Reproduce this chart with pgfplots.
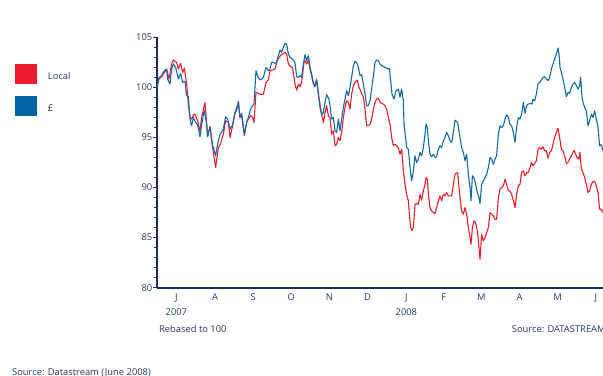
\documentclass[border=0pt]{standalone}
\usepackage{fontspec}
\setmainfont{Open Sans}
\usepackage{pgfplots}
\pgfplotsset{compat=1.18}
\definecolor{navy}{RGB}{30,45,90}
\definecolor{txt}{RGB}{40,55,95}
\definecolor{lred}{RGB}{232,30,45}
\definecolor{lblue}{RGB}{20,105,170}
\definecolor{sqred}{RGB}{237,28,46}
\definecolor{sqblue}{RGB}{0,102,166}
\newcommand{\chf}{\fontsize{9.4}{11}\selectfont}
\begin{document}
\begin{tikzpicture}
\begin{axis}[
  at={(0,0)}, anchor=south west,
  scale only axis, width=446.25bp, height=250.4bp,
  xmin=0, xmax=357, ymin=80, ymax=105,
  axis x line*=bottom, axis y line*=left,
  x axis line style={-, draw=navy, line width=1.6bp},
  y axis line style={-, draw=navy, line width=1.2bp},
  tick align=outside,
  major tick length=3.5bp, minor tick length=2.5bp,
  tick style={draw=navy, line width=0.8bp},
  ytick={80,85,...,105}, minor y tick num=4,
  xtick={15.5,46.5,77,107.5,138,168.5,199.5,229.5,259.5,290,320.5,351},
  xticklabels={J\\[4bp]2007,A,S,O,N,D,J\\[4bp]2008,F,M,A,M,J},
  xtick style={draw=none},
  minor xtick={0,31,62,92,123,153,215,244,275,305,336},
  extra x ticks={184}, extra x tick labels={},
  extra x tick style={major tick length=6bp, tick align=center, tick style={draw=navy, line width=0.9bp}},
  xticklabel style={align=center, font=\chf, text=txt, anchor=north, inner sep=0pt, yshift=-2bp},
  yticklabel style={font=\chf, text=txt, anchor=east, inner sep=0pt, xshift=-1bp},
  /pgf/number format/assume math mode=true,
  legend style={at={(axis description cs:-0.3182,0.8934)}, anchor=north west,
    draw=none, fill=none, inner sep=0pt, row sep=12bp, column sep=10.7bp,
    cells={anchor=base west}, nodes={inner sep=0pt, text=txt, font=\chf}},
  line join=round,
]
\addplot[lred, line width=1.1bp, legend image code/.code={\fill[sqred] (0bp,-4.5bp) rectangle (21bp,14.5bp);}] coordinates {
(0,100) (1.6,100.83) (3.7,101.07) (5.9,101.5) (7.7,101.83) (9.6,100.83) (11.7,102.33) (13.1,102.73) (15.7,102.5) (17.1,101.83) (18.9,102.4) (20.5,101.5) (21.9,101.93) (23.7,100.33) (25.1,98.33) (26.4,97.0) (27.7,96.83) (29.1,97.27) (30.4,97.33) (32.5,96.67) (34.4,95.6) (35.7,97.0) (38.4,98.5) (40.5,95.17) (42.4,96.07) (44.3,94.17) (46.9,92.0) (49.1,94.0) (50.7,94.33) (53.1,95.33) (54.9,96.67) (57.1,96.5)
(58.4,95.0) (60.5,96.17) (62.4,97.4) (65.1,98.5) (66.4,97.0) (67.7,97.17) (69.9,95.17) (71.7,96.5) (73.1,96.83) (74.9,97.17) (76.5,97.0) (77.6,96.5) (79.2,99.5) (81.1,99.4) (82.9,99.27) (85.1,99.33) (87.2,100.5) (89.1,100.73) (90.4,101.67) (92.5,101.73) (94.4,101.83) (95.7,102.5) (97.9,103.07) (99.7,103.27) (102.4,103.5) (103.7,103.33) (105.1,102.33) (106.9,102.07) (108.5,101.93) (110.4,100.33) (111.7,99.73) (113.1,100.33) (114.4,100.07) (115.7,100.5) (117.6,102.5)
(118.4,102.67) (119.7,102.33) (121.1,102.73) (122.4,101.83) (123.7,101.17) (125.1,100.33) (126.4,100.07) (127.7,100.83) (129.1,99.17) (130.4,98.33) (131.7,97.33) (133.1,96.5) (134.4,97.5) (135.7,98.17) (137.1,97.17) (138.4,97.0) (139.7,95.33) (141.1,95.67) (142.4,94.17) (143.7,94.33) (145.1,95.0) (146.4,94.67) (147.7,95.5) (149.1,97.0) (150.4,98.0) (151.7,98.67) (153.1,98.5) (154.4,97.83) (155.7,99.33) (157.1,100.17) (158.4,100.5) (160.3,100.73) (161.6,100.0) (162.9,99.67) (165.1,99.0) (166.4,97.83) (167.7,96.17) (170.4,96.27) (171.7,96.83) (173.1,97.83) (174.4,98.5) (175.7,98.83) (177.1,98.93)
(178.4,98.5) (181.1,98.33) (182.4,98.17) (183.7,97.83) (185.1,97.0) (186.4,96.33) (187.7,95.0) (189.1,94.17) (190.4,94.33) (191.7,94.17) (193.1,94.0) (194.4,93.33) (195.7,93.83) (197.1,91.67) (198.4,90.33) (199.7,89.33) (201.1,88.67) (201.9,87.33) (202.9,86.0) (204.0,85.73) (205.1,86.0) (206.4,88.33) (207.7,88.4) (209.1,88.33) (210.4,89.33) (211.7,88.73) (213.1,89.67) (214.4,90.33) (215.2,91.0) (216.3,90.83) (217.1,89.33) (218.4,88.0) (219.7,87.67) (221.1,87.5) (222.4,87.4) (223.7,88.0) (225.1,88.67) (226.4,89.17) (227.7,88.67) (229.1,89.33) (230.4,89.17) (231.7,89.5) (233.1,89.17) (234.4,89.17) (235.7,89.17) (237.1,90.33)
(238.4,91.33) (240.5,91.5) (242.4,89.0) (243.7,87.67) (245.1,87.33) (246.4,88.0) (247.7,87.33) (249.1,86.0) (250.4,85.0) (251.2,84.33) (252.3,86.0) (253.6,86.67) (254.9,86.5) (256.3,85.67) (257.6,84.0) (258.4,82.83) (259.7,85.33) (261.1,84.67) (262.4,85.0) (263.7,85.5) (265.1,86.0) (266.4,87.5) (267.7,87.33) (269.1,87.17) (270.4,86.83) (271.7,86.83) (273.1,89.0) (274.4,89.83) (275.7,90.0) (277.1,90.17) (278.4,90.83) (279.7,90.33) (281.1,89.67) (282.4,89.67) (283.7,89.33) (285.1,88.67) (286.4,88.0) (287.7,89.33) (289.1,90.17) (290.4,90.33) (291.7,91.5) (293.1,91.67) (294.4,91.17) (295.7,91.5)
(296.8,91.5) (298.1,91.83) (299.5,92.5) (300.8,92.17) (302.1,92.4) (303.5,92.67) (304.8,93.83) (306.1,94.0) (307.5,93.83) (308.8,94.07) (310.1,93.67) (311.5,93.67) (312.8,92.93) (314.1,93.5) (315.5,93.67) (316.8,94.33) (318.1,95.0) (319.5,95.5) (320.8,95.93) (322.1,95.0) (323.5,93.83) (324.8,93.67) (326.1,93.17) (327.5,92.4) (328.8,92.5) (330.1,92.83) (331.5,93.17) (332.8,93.5) (333.6,93.73) (334.7,93.4) (336.0,93.0) (337.3,92.83) (338.4,93.5) (339.5,91.83) (340.8,91.5) (342.1,91.0) (343.5,90.33) (344.8,89.5) (346.1,89.67) (347.5,90.33) (348.8,90.6) (350.1,90.6) (351.5,90.17) (352.8,89.5) (354.1,87.83) (355.5,87.83) (356.8,87.5) (358,87.4)
};
\addlegendentry{Local}
\addplot[lblue, line width=1.1bp, legend image code/.code={\fill[sqblue] (0bp,-4.5bp) rectangle (21bp,14.5bp);}] coordinates {
(0,100) (1.6,101.0) (3.7,101.17) (5.9,101.67) (7.7,101.83) (8.5,100.83) (10.4,100.33) (11.7,101.83) (13.1,102.33) (14.9,102.0) (17.1,100.83) (18.9,101.4) (20.5,100.5) (22.4,100.6) (23.7,99.17) (25.1,99.07) (26.4,96.83) (27.7,96.17) (29.1,97.0) (30.9,96.5) (32.5,96.27) (34.4,95.07) (35.7,96.33) (37.9,97.73) (39.7,96.33) (40.5,95.07) (42.4,96.07) (44.3,94.33) (46.9,93.17) (48.5,94.33) (50.4,95.27) (53.1,95.83) (54.9,97.07) (56.5,96.83)
(58.4,95.83) (60.5,96.27) (62.4,97.5) (63.7,97.67) (65.1,98.6) (66.4,97.0) (67.7,97.4) (69.9,95.33) (71.7,96.5) (73.1,97.0) (74.9,97.83) (76.5,98.17) (77.6,98.33) (79.2,101.67) (81.1,100.93) (82.9,100.73) (85.1,101.0) (87.2,102.0) (89.1,101.67) (90.4,101.83) (91.7,102.5) (93.6,102.5) (95.2,102.33) (97.1,103.17) (98.4,103.73) (99.7,103.5) (101.1,104.0) (102.4,104.4) (103.7,104.33) (105.1,103.33) (106.4,103.0) (108.5,102.83) (110.4,102.5) (111.7,101.07) (113.1,101.0) (114.4,101.17) (115.7,101.0) (117.1,102.33)
(118.4,103.27) (119.7,102.67) (121.1,103.17) (122.4,102.0) (123.7,101.33) (125.1,100.5) (126.4,100.07) (127.7,100.73) (129.1,99.5) (130.4,98.0) (131.7,97.27) (133.1,97.5) (134.4,98.5) (135.7,99.27) (137.6,98.83) (138.4,98.17) (139.7,96.83) (141.1,97.0) (142.4,95.67) (143.7,95.5) (145.1,96.83) (146.4,95.67) (147.7,96.83) (149.1,98.0) (150.4,98.83) (151.7,99.67) (153.1,99.17) (154.4,100.0) (155.7,101.0) (157.1,102.17) (158.4,102.6) (159.7,102.5) (161.1,102.0) (162.4,101.17) (163.7,101.27) (165.1,100.33) (166.4,99.33) (167.7,98.17) (169.1,98.17) (170.4,98.67) (171.7,99.83) (173.1,101.17) (174.4,102.5) (175.7,102.73) (177.1,102.67)
(178.4,102.33) (179.7,102.17) (182.4,102.0) (185.1,101.83) (185.9,101.93) (186.9,100.67) (188.0,99.33) (189.6,98.83) (191.2,99.67) (193.1,99.83) (194.4,99.0) (195.7,99.83) (197.1,98.67) (197.6,96.33) (199.2,94.67) (199.7,94.0) (201.1,93.83) (202.4,92.0) (203.7,90.67) (205.1,91.67) (206.4,93.17) (207.7,92.5) (209.1,92.83) (210.4,93.5) (211.7,93.17) (213.1,94.0) (214.4,95.33) (215.2,96.33) (216.3,96.0) (217.1,94.67) (218.4,93.33) (219.7,93.07) (221.1,93.33) (222.4,93.0) (223.7,93.07) (225.1,93.83) (226.4,94.17) (227.7,94.0) (229.1,94.67) (230.4,95.0) (231.7,95.5) (233.1,95.17) (234.4,94.67) (235.7,94.5) (237.1,95.5)
(238.4,96.73) (240.5,96.5) (242.4,95.0) (243.7,94.0) (245.1,93.5) (246.4,92.67) (247.7,93.33) (249.1,91.33) (250.4,90.0) (251.2,88.67) (252.3,91.17) (253.6,91.0) (254.9,90.33) (256.3,89.5) (257.6,89.0) (258.4,88.4) (259.7,90.33) (261.1,90.67) (262.4,91.0) (263.7,91.33) (265.1,92.0) (266.4,93.0) (267.7,92.83) (269.1,92.33) (270.4,92.83) (271.7,93.17) (273.1,95.33) (274.4,96.17) (275.7,96.0) (277.1,96.17) (278.4,96.83) (279.7,97.27) (281.1,97.0) (282.4,96.33) (283.7,96.17) (285.1,95.5) (286.4,94.5) (287.7,96.0) (289.1,97.0) (290.4,96.83) (291.7,97.33) (293.1,98.5) (294.4,97.4) (295.7,98.17)
(296.8,98.33) (298.9,98.4) (300.0,98.33) (300.8,98.83) (302.1,98.67) (303.5,99.33) (304.8,100.33) (306.1,100.5) (307.5,100.73) (308.8,101.0) (310.1,101.07) (311.5,100.83) (312.8,100.67) (314.1,101.0) (315.5,101.83) (316.8,102.33) (318.1,102.83) (319.5,103.33) (320.8,103.93) (321.6,103.33) (322.4,102.0) (323.5,101.5) (324.8,100.83) (326.1,100.0) (327.5,99.07) (328.8,99.5) (330.1,99.4) (331.5,100.0) (332.8,100.33) (334.1,100.5) (335.5,100.17) (336.8,99.83) (338.1,100.17) (338.9,101.0) (340.0,99.0) (340.8,98.5) (342.1,98.0) (343.5,97.67) (344.8,96.17) (346.1,96.67) (347.5,97.33) (348.8,97.0) (350.1,97.67) (351.5,96.83) (352.8,96.0) (354.1,94.17) (355.5,94.27) (356.8,93.67) (358,93.8)
};
\addlegendentry{£}
\end{axis}
\node[anchor=base west, text=txt, font=\chf, inner sep=0pt] at (2bp,-44.6bp) {Rebased to 100};
\node[anchor=base west, text=txt, font=\chf, inner sep=0pt] at (354.7bp,-44.6bp) {Source: DATASTREAM};
\node[anchor=base west, text=txt, font=\chf, inner sep=0pt] at (-145bp,-87.3bp) {Source: Datastream (June 2008)};
\pgfresetboundingbox
\useasboundingbox (-157bp,-88.3bp) rectangle (446bp,287.7bp);
\end{tikzpicture}
\end{document}
